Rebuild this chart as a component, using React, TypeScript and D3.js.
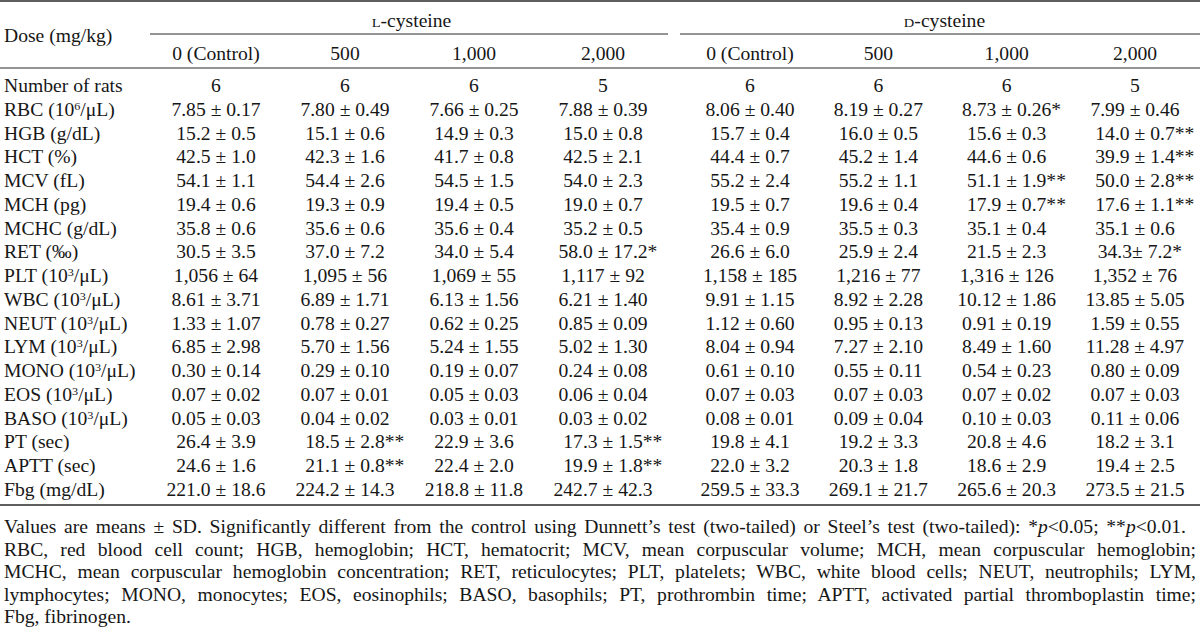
import React, { useEffect, useRef } from "react";
import * as d3 from "d3";

const W = 1200;
const H = 638;

const groupLetters = ["L", "D"];
const groupSuffix = "-cysteine";
const doses = ["0 (Control)", "500", "1,000", "2,000"];
const stubHeader = "Dose (mg/kg)";

const parameters = [
  "Number of rats",
  "RBC (10^6/μL)",
  "HGB (g/dL)",
  "HCT (%)",
  "MCV (fL)",
  "MCH (pg)",
  "MCHC (g/dL)",
  "RET (‰)",
  "PLT (10^3/μL)",
  "WBC (10^3/μL)",
  "NEUT (10^3/μL)",
  "LYM (10^3/μL)",
  "MONO (10^3/μL)",
  "EOS (10^3/μL)",
  "BASO (10^3/μL)",
  "PT (sec)",
  "APTT (sec)",
  "Fbg (mg/dL)",
];

const lControl = ["6", "7.85 ± 0.17", "15.2 ± 0.5", "42.5 ± 1.0", "54.1 ± 1.1", "19.4 ± 0.6", "35.8 ± 0.6", "30.5 ± 3.5", "1,056 ± 64", "8.61 ± 3.71", "1.33 ± 1.07", "6.85 ± 2.98", "0.30 ± 0.14", "0.07 ± 0.02", "0.05 ± 0.03", "26.4 ± 3.9", "24.6 ± 1.6", "221.0 ± 18.6"];
const l500 = ["6", "7.80 ± 0.49", "15.1 ± 0.6", "42.3 ± 1.6", "54.4 ± 2.6", "19.3 ± 0.9", "35.6 ± 0.6", "37.0 ± 7.2", "1,095 ± 56", "6.89 ± 1.71", "0.78 ± 0.27", "5.70 ± 1.56", "0.29 ± 0.10", "0.07 ± 0.01", "0.04 ± 0.02", "18.5 ± 2.8**", "21.1 ± 0.8**", "224.2 ± 14.3"];
const l1000 = ["6", "7.66 ± 0.25", "14.9 ± 0.3", "41.7 ± 0.8", "54.5 ± 1.5", "19.4 ± 0.5", "35.6 ± 0.4", "34.0 ± 5.4", "1,069 ± 55", "6.13 ± 1.56", "0.62 ± 0.25", "5.24 ± 1.55", "0.19 ± 0.07", "0.05 ± 0.03", "0.03 ± 0.01", "22.9 ± 3.6", "22.4 ± 2.0", "218.8 ± 11.8"];
const l2000 = ["5", "7.88 ± 0.39", "15.0 ± 0.8", "42.5 ± 2.1", "54.0 ± 2.3", "19.0 ± 0.7", "35.2 ± 0.5", "58.0 ± 17.2*", "1,117 ± 92", "6.21 ± 1.40", "0.85 ± 0.09", "5.02 ± 1.30", "0.24 ± 0.08", "0.06 ± 0.04", "0.03 ± 0.02", "17.3 ± 1.5**", "19.9 ± 1.8**", "242.7 ± 42.3"];
const dControl = ["6", "8.06 ± 0.40", "15.7 ± 0.4", "44.4 ± 0.7", "55.2 ± 2.4", "19.5 ± 0.7", "35.4 ± 0.9", "26.6 ± 6.0", "1,158 ± 185", "9.91 ± 1.15", "1.12 ± 0.60", "8.04 ± 0.94", "0.61 ± 0.10", "0.07 ± 0.03", "0.08 ± 0.01", "19.8 ± 4.1", "22.0 ± 3.2", "259.5 ± 33.3"];
const d500 = ["6", "8.19 ± 0.27", "16.0 ± 0.5", "45.2 ± 1.4", "55.2 ± 1.1", "19.6 ± 0.4", "35.5 ± 0.3", "25.9 ± 2.4", "1,216 ± 77", "8.92 ± 2.28", "0.95 ± 0.13", "7.27 ± 2.10", "0.55 ± 0.11", "0.07 ± 0.03", "0.09 ± 0.04", "19.2 ± 3.3", "20.3 ± 1.8", "269.1 ± 21.7"];
const d1000 = ["6", "8.73 ± 0.26*", "15.6 ± 0.3", "44.6 ± 0.6", "51.1 ± 1.9**", "17.9 ± 0.7**", "35.1 ± 0.4", "21.5 ± 2.3", "1,316 ± 126", "10.12 ± 1.86", "0.91 ± 0.19", "8.49 ± 1.60", "0.54 ± 0.23", "0.07 ± 0.02", "0.10 ± 0.03", "20.8 ± 4.6", "18.6 ± 2.9", "265.6 ± 20.3"];
const d2000 = ["5", "7.99 ± 0.46", "14.0 ± 0.7**", "39.9 ± 1.4**", "50.0 ± 2.8**", "17.6 ± 1.1**", "35.1 ± 0.6", "34.3± 7.2*", "1,352 ± 76", "13.85 ± 5.05", "1.59 ± 0.55", "11.28 ± 4.97", "0.80 ± 0.09", "0.07 ± 0.03", "0.11 ± 0.06", "18.2 ± 3.1", "19.4 ± 2.5", "273.5 ± 21.5"];

const lValues = [lControl, l500, l1000, l2000];
const dValues = [dControl, d500, d1000, d2000];

const footnoteLines = [
  "Values are means ± SD. Significantly different from the control using Dunnett’s test (two-tailed) or Steel’s test (two-tailed): *_p_<0.05; **_p_<0.01.",
  "RBC, red blood cell count; HGB, hemoglobin; HCT, hematocrit; MCV, mean corpuscular volume; MCH, mean corpuscular hemoglobin;",
  "MCHC, mean corpuscular hemoglobin concentration; RET, reticulocytes; PLT, platelets; WBC, white blood cells; NEUT, neutrophils; LYM,",
  "lymphocytes; MONO, monocytes; EOS, eosinophils; BASO, basophils; PT, prothrombin time; APTT, activated partial thromboplastin time;",
  "Fbg, fibrinogen.",
];
// right edge each footnote line reaches (null = natural width)
const footnoteRight = [1186, 1196, 1196, 1196, null];

export default function App() {
  const ref = useRef<SVGSVGElement | null>(null);

  useEffect(() => {
    const svg = d3.select(ref.current);
    svg.selectAll("*").remove();

    const FONT = "'Liberation Serif', 'Times New Roman', serif";
    const FS = 18;
    const SX = 1.09;
    const ink = "#161616";
    const rule = "#2a2a2a";
    const left = 4;

    svg.append("rect").attr("width", W).attr("height", H).attr("fill", "#fff");

    const groupScales = [
      d3.scalePoint<string>().domain(doses).range([216, 603]),
      d3.scalePoint<string>().domain(doses).range([750, 1135]),
    ];
    const groupSpans: [number, number][] = [
      [150, 668],
      [680, 1200],
    ];
    const y = d3.scaleLinear().domain([0, parameters.length - 1]).range([92, 495.75]);

    const label = (x: number, yy: number, anchor: string) => {
      const g = svg.append("g").attr("transform", `translate(${x},${yy}) scale(${SX},1)`);
      const t = g
        .append("text")
        .attr("text-anchor", anchor)
        .attr("font-family", FONT)
        .attr("font-size", FS)
        .attr("fill", ink);
      return { g, t };
    };

    const hline = (x1: number, x2: number, yy: number, w: number) =>
      svg.append("line").attr("x1", x1).attr("x2", x2).attr("y1", yy).attr("y2", yy)
        .attr("stroke", rule).attr("stroke-width", w);
    hline(0, W, 1, 1.6);
    hline(0, W, 68, 1.2);
    hline(0, W, 505, 1.4);
    groupSpans.forEach(([a, b]) => hline(a, b, 34, 1.1));

    label(left, 42, "start").t.text(stubHeader);

    groupLetters.forEach((letter, gi) => {
      const sc = groupScales[gi];
      const cx = (sc.range()[0] + sc.range()[1]) / 2 + 2;
      const { t } = label(cx, 27, "middle");
      t.append("tspan").attr("font-size", FS * 0.74).text(letter);
      t.append("tspan").text(groupSuffix);
      doses.forEach((d) => {
        label(sc(d) as number, 60, "middle").t.text(d);
      });
    });

    parameters.forEach((p, i) => {
      const { t } = label(left, y(i), "start");
      const parts = p.split(/\^(\d)/);
      parts.forEach((part, k) => {
        if (k % 2 === 1) {
          t.append("tspan").attr("font-size", FS * 0.62).attr("dy", -6).text(part);
        } else if (part) {
          const ts = t.append("tspan").text(part);
          if (k > 0) ts.attr("dy", 6);
        }
      });
    });

    [lValues, dValues].forEach((cols, gi) => {
      const sc = groupScales[gi];
      cols.forEach((col, di) => {
        const cx = sc(doses[di]) as number;
        col.forEach((v, i) => {
          const m = v.match(/^(.*?)(\**)$/) as RegExpMatchArray;
          const base = m[1];
          const stars = m[2];
          const { g, t } = label(cx, y(i), "middle");
          t.text(base);
          if (stars) {
            const len = (t.node() as SVGTextElement).getComputedTextLength();
            g.append("text")
              .attr("x", len / 2)
              .attr("font-family", FONT)
              .attr("font-size", FS)
              .attr("fill", ink)
              .text(stars);
          }
        });
      });
    });

    const fy = d3.scaleLinear().domain([0, footnoteLines.length - 1]).range([533, 623]);
    footnoteLines.forEach((line, i) => {
      const { t } = label(left, fy(i), "start");
      line.split("_").forEach((seg, k) => {
        const ts = t.append("tspan").text(seg);
        if (k % 2 === 1) ts.attr("font-style", "italic");
      });
      const r = footnoteRight[i];
      if (r != null) {
        const natural = (t.node() as SVGTextElement).getComputedTextLength();
        const target = (r - left) / SX;
        const gaps = (line.match(/ /g) || []).length;
        if (gaps > 0 && target > natural) t.style("word-spacing", `${(target - natural) / gaps}px`);
      }
    });
  }, []);

  return (
    <svg
      ref={ref}
      width={W}
      height={H}
      viewBox={`0 0 ${W} ${H}`}
      style={{ position: "absolute", left: 0, top: 0, display: "block", background: "#fff" }}
    />
  );
}
